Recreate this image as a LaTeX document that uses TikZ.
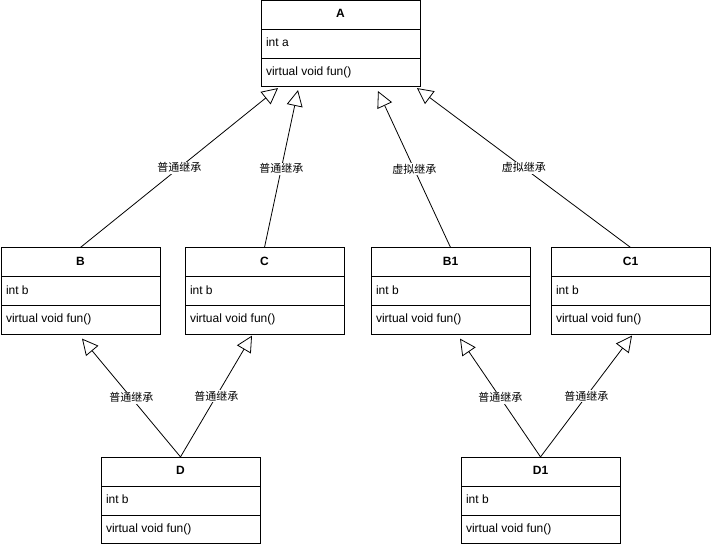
\documentclass[tikz,border=0pt]{standalone}
\usepackage{fontspec}
\setmainfont{Liberation Sans}
\newfontfamily\cjk{Noto Sans CJK SC}
\usetikzlibrary{shapes.multipart,arrows.meta}
\newcommand{\ks}{\rule[-3pt]{0pt}{12pt}}

\begin{document}
\begin{tikzpicture}[
        x=1pt, y=-1pt,
        klass/.style = {rectangle split, rectangle split parts=3, draw, line width=0.8pt,
            minimum width=159pt, inner xsep=5pt, inner ysep=8pt,
            rectangle split part align={center,left,left}, font=\fontsize{12}{14}\selectfont},
        lbl/.style = {fill=white, inner sep=1pt, font=\cjk\fontsize{11}{13}\selectfont},
        >={Triangle[open, length=16pt, width=16pt]}
        ]
        \useasboundingbox (0,0) rectangle (711,547);

        \node (A) at (340.5,43.5)   [klass] {\ks\textbf{A} \nodepart{second}\ks int a \nodepart{third}\ks virtual void fun()};
        \node (B) at (80.5,291)     [klass] {\ks\textbf{B} \nodepart{second}\ks int b \nodepart{third}\ks virtual void fun()};
        \node (C) at (264.5,291)    [klass] {\ks\textbf{C} \nodepart{second}\ks int b \nodepart{third}\ks virtual void fun()};
        \node (B1) at (450.5,291)   [klass] {\ks\textbf{B1} \nodepart{second}\ks int b \nodepart{third}\ks virtual void fun()};
        \node (C1) at (630.5,291)   [klass] {\ks\textbf{C1} \nodepart{second}\ks int b \nodepart{third}\ks virtual void fun()};
        \node (D) at (180.5,500.5)  [klass] {\ks\textbf{D} \nodepart{second}\ks int b \nodepart{third}\ks virtual void fun()};
        \node (D1) at (540.5,500.5) [klass] {\ks\textbf{D1} \nodepart{second}\ks int b \nodepart{third}\ks virtual void fun()};

        % first level
        \draw[->, line width=0.8pt] (B.north) -- node[lbl] {普通继承} ([xshift=-62.5pt, yshift=-1pt]A.south);
        \draw[->, line width=0.8pt] (C.north) -- node[lbl] {普通继承} ([xshift=-42.5pt, yshift=-3pt]A.south);
        \draw[->, line width=0.8pt] (B1.north) -- node[lbl] {虚拟继承} ([xshift=37.5pt, yshift=-4pt]A.south);
        \draw[->, line width=0.8pt] (C1.north) -- node[lbl] {虚拟继承} ([xshift=76.5pt, yshift=-1pt]A.south);

        % second level
        \draw[->, line width=0.8pt] (D.north) -- node[lbl] {普通继承} ([xshift=1.5pt, yshift=-4pt]B.south);
        \draw[->, line width=0.8pt] (D.north) -- node[lbl] {普通继承} ([xshift=-12.5pt, yshift=-1pt]C.south);
        \draw[->, line width=0.8pt] (D1.north) -- node[lbl] {普通继承} ([xshift=9.5pt, yshift=-4pt]B1.south);
        \draw[->, line width=0.8pt] (D1.north) -- node[lbl] {普通继承} ([xshift=1.5pt, yshift=-1pt]C1.south);
    \end{tikzpicture}
\end{document}
